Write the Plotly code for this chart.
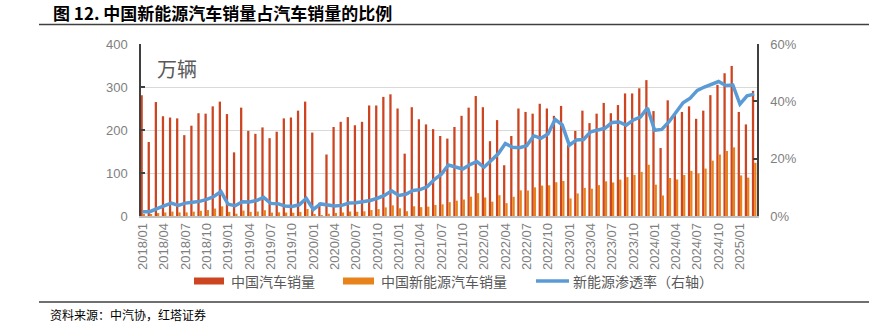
import plotly.graph_objects as go

# ---------------- data ----------------
months = [f"{y}/{m:02d}" for y in range(2018, 2026) for m in range(1, 13)][:87]

total_sales = [  # 中国汽车销量 (万辆)
    281, 172, 265, 232, 229, 227, 188, 210, 239, 238, 255, 266,
    237, 148, 252, 198, 191, 206, 181, 196, 227, 229, 245, 266,
    194, 31, 143, 207, 219, 230, 211, 219, 257, 257, 277, 283,
    250, 145, 253, 225, 213, 202, 186, 180, 207, 233, 252, 279,
    253, 174, 223, 118, 186, 250, 242, 238, 261, 250, 233, 256,
    165, 198, 245, 216, 238, 263, 239, 258, 285, 285, 297, 316,
    244, 158, 269, 236, 242, 255, 226, 245, 281, 305, 332, 349,
    242, 213, 291,
]

nev_sales = [  # 中国新能源汽车销量 (万辆)
    4.1, 2.5, 6.8, 8.2, 10.2, 8.4, 8.4, 10.1, 12.1, 13.8, 17.3, 22.5,
    9.6, 5.3, 12.6, 9.7, 10.4, 13.4, 8.0, 8.5, 8.0, 7.5, 9.5, 16.3,
    4.4, 1.3, 5.3, 7.2, 8.2, 10.4, 9.8, 10.9, 13.8, 16.0, 20.0, 24.8,
    17.9, 11.0, 22.6, 20.6, 21.7, 25.6, 27.1, 32.1, 35.7, 38.3, 45.0, 53.1,
    43.1, 33.4, 48.4, 29.9, 44.7, 59.6, 59.3, 66.6, 70.8, 71.4, 78.6, 81.4,
    40.8, 52.5, 65.3, 63.6, 71.7, 80.6, 78.0, 84.6, 90.4, 95.6, 102.6, 119.1,
    72.9, 47.7, 88.3, 85.0, 95.5, 104.9, 99.1, 110.3, 128.7, 143.0, 151.2, 159.6,
    94.4, 89.2, 123.7,
]

penetration = [  # 新能源渗透率 (%)
    1.5, 1.5, 2.6, 3.5, 4.5, 3.7, 4.5, 4.8, 5.1, 5.8, 6.8, 8.5,
    4.1, 3.6, 5.0, 4.9, 5.4, 6.5, 4.4, 4.3, 3.5, 3.3, 3.9, 6.1,
    2.3, 4.2, 3.7, 3.5, 3.7, 4.5, 4.6, 5.0, 5.4, 6.2, 7.2, 8.8,
    7.2, 7.6, 8.9, 9.2, 10.2, 12.7, 14.6, 17.8, 17.2, 16.4, 17.9, 19.0,
    17.0, 19.2, 21.7, 25.3, 24.0, 23.8, 24.5, 28.0, 27.1, 28.6, 33.7, 31.8,
    24.7, 26.5, 26.7, 29.4, 30.1, 30.6, 32.6, 32.8, 31.7, 33.5, 34.5, 37.7,
    29.9, 30.2, 32.8, 36.0, 39.5, 41.1, 43.8, 45.0, 45.8, 46.9, 45.5, 45.7,
    39.0, 41.9, 42.5,
]

tick_labels = [
    "2018/01", "2018/04", "2018/07", "2018/10",
    "2019/01", "2019/04", "2019/07", "2019/10",
    "2020/01", "2020/04", "2020/07", "2020/10",
    "2021/01", "2021/04", "2021/07", "2021/10",
    "2022/01", "2022/04", "2022/07", "2022/10",
    "2023/01", "2023/04", "2023/07", "2023/10",
    "2024/01", "2024/04", "2024/07", "2024/10",
    "2025/01",
]

left_ticks = [0, 100, 200, 300, 400]
right_ticks = [0, 20, 40, 60]
right_tick_text = ["0%", "20%", "40%", "60%"]

# ---------------- styling ----------------
W, H = 869, 322
L, R, T, B = 141, 757, 44, 216
RED = "#CC4420"
ORANGE = "#E8821A"
BLUE = "#5B9BD5"
GRAY_TXT = "#7F7F7F"
LEG_TXT = "#595959"
FONT = "Liberation Sans, Arial, Noto Sans CJK SC, sans-serif"
CJK = "Noto Sans CJK SC, sans-serif"


def px(x):
    return (x - L) / (R - L)


def py(y):
    return (B - y) / (B - T)


fig = go.Figure()
fig.add_trace(go.Bar(x=months, y=total_sales, name="中国汽车销量",
                     marker=dict(color=RED, line=dict(width=0)), yaxis="y"))
fig.add_trace(go.Bar(x=months, y=nev_sales, name="中国新能源汽车销量",
                     marker=dict(color=ORANGE, line=dict(width=0)), yaxis="y"))
fig.add_trace(go.Scatter(x=months, y=penetration, name="新能源渗透率（右轴）",
                         mode="lines", line=dict(color=BLUE, width=3.5),
                         yaxis="y2"))

shapes = []
annotations = []

# title + rules
annotations.append(dict(text="<b>图 12. 中国新能源汽车销量占汽车销量的比例</b>",
                        x=px(51), y=py(13), xref="paper", yref="paper",
                        xanchor="left", yanchor="middle", showarrow=False,
                        font=dict(family=CJK, size=17, color="#000000")))
shapes.append(dict(type="line", xref="paper", yref="paper",
                   x0=px(39), x1=px(869), y0=py(24.5), y1=py(24.5),
                   line=dict(color="#404040", width=1.3)))
shapes.append(dict(type="line", xref="paper", yref="paper",
                   x0=px(39), x1=px(869), y0=py(302), y1=py(302),
                   line=dict(color="#404040", width=1.3)))
annotations.append(dict(text="资料来源：中汽协，红塔证券",
                        x=px(48), y=py(314), xref="paper", yref="paper",
                        xanchor="left", yanchor="middle", showarrow=False,
                        font=dict(family=CJK, size=12, color="#000000")))
# unit label
annotations.append(dict(text="万辆", x=px(155), y=py(68), xref="paper", yref="paper",
                        xanchor="left", yanchor="middle", showarrow=False,
                        font=dict(family=CJK, size=20, color=LEG_TXT)))

# custom legend
leg_y = 281
shapes.append(dict(type="rect", xref="paper", yref="paper",
                   x0=px(194), x1=px(224), y0=py(284.5), y1=py(277.5),
                   fillcolor=RED, line=dict(width=0)))
annotations.append(dict(text="中国汽车销量", x=px(229), y=py(leg_y), xref="paper",
                        yref="paper", xanchor="left", yanchor="middle", showarrow=False,
                        font=dict(family=CJK, size=14, color=LEG_TXT)))
shapes.append(dict(type="rect", xref="paper", yref="paper",
                   x0=px(343), x1=px(374), y0=py(284.5), y1=py(277.5),
                   fillcolor=ORANGE, line=dict(width=0)))
annotations.append(dict(text="中国新能源汽车销量", x=px(379), y=py(leg_y), xref="paper",
                        yref="paper", xanchor="left", yanchor="middle", showarrow=False,
                        font=dict(family=CJK, size=14, color=LEG_TXT)))
shapes.append(dict(type="line", xref="paper", yref="paper",
                   x0=px(536), x1=px(569), y0=py(leg_y), y1=py(leg_y),
                   line=dict(color=BLUE, width=3.5)))
annotations.append(dict(text="新能源渗透率（右轴）", x=px(571), y=py(leg_y), xref="paper",
                        yref="paper", xanchor="left", yanchor="middle", showarrow=False,
                        font=dict(family=CJK, size=14, color=LEG_TXT)))

fig.update_layout(
    width=W, height=H,
    margin=dict(l=L, r=W - R, t=T, b=H - B, pad=0),
    paper_bgcolor="white", plot_bgcolor="white",
    barmode="group", bargap=0.36, bargroupgap=0.0,
    showlegend=False,
    font=dict(family=FONT, size=13, color=GRAY_TXT),
    shapes=shapes, annotations=annotations,
    xaxis=dict(type="category", range=[-0.25, 86.4],
               tickmode="array", tickvals=tick_labels, ticktext=tick_labels,
               tickangle=-90, tickfont=dict(size=13, color=GRAY_TXT, family=FONT),
               showline=True, linecolor="#BFBFBF", linewidth=1.5,
               ticks="", showgrid=False, zeroline=False),
    yaxis=dict(range=[0, 400], tickmode="array", tickvals=left_ticks,
               showgrid=True, gridcolor="#D9D9D9", gridwidth=1,
               showline=True, linecolor="#404040", linewidth=1.5,
               ticks="inside", ticklen=4, tickcolor="#404040", tickwidth=1.5,
               ticklabelstandoff=9,
               tickfont=dict(size=13, color=GRAY_TXT, family=FONT),
               zeroline=False),
    yaxis2=dict(range=[0, 60], overlaying="y", side="right",
                tickmode="array", tickvals=right_ticks, ticktext=right_tick_text,
                showgrid=False, showline=True, linecolor="#404040", linewidth=1.5,
                ticks="inside", ticklen=4, tickcolor="#404040", tickwidth=1.5,
                ticklabelstandoff=9,
                tickfont=dict(size=13, color=GRAY_TXT, family=FONT),
                zeroline=False),
)

fig.write_html("out.html")
